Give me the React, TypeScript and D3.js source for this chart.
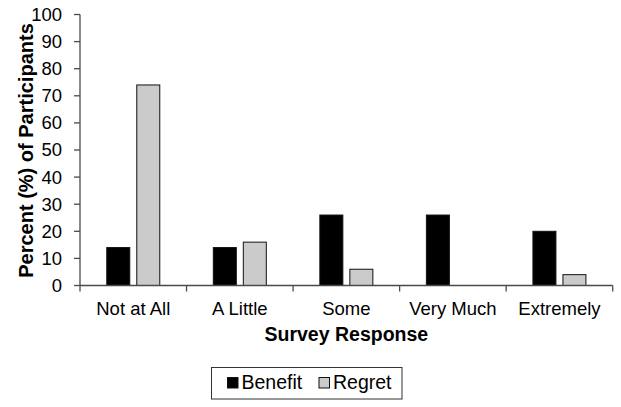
import React from "react";
import * as d3 from "d3";

const categories = ["Not at All", "A Little", "Some", "Very Much", "Extremely"];
const seriesNames = ["Benefit", "Regret"];
const benefitValues = [14, 14, 26, 26, 20];
const regretValues = [74, 16, 6, 0, 4];
const yTicks = [0, 10, 20, 30, 40, 50, 60, 70, 80, 90, 100];
const xTitle = "Survey Response";
const yTitle = "Percent (%) of Participants";

const colors: Record<string, string> = { Benefit: "#000000", Regret: "#cbcbcb" };
const FONT = "'Liberation Sans', Arial, sans-serif";
const AXIS = "#4a4a4a";

export default function App() {
  const W = 621, H = 407;
  const left = 80, right = 612.7, top = 14.5, bottom = 285.5;
  const x0 = d3.scaleBand<string>().domain(categories).range([left, right]).padding(0);
  const bw = x0.bandwidth();
  const groupW = 54;
  const off = (bw - groupW) / 2;
  const x1 = d3.scaleBand<string>().domain(seriesNames).range([off, off + groupW]).paddingInner(0.2).paddingOuter(0);
  const y = d3.scaleLinear().domain([0, 100]).range([bottom, top]);

  const data = categories.map((c, i) => ({ c, vals: [benefitValues[i], regretValues[i]] }));
  const boundaries = [...categories.map((c) => x0(c) as number), right];

  return (
    <svg width={W} height={H} style={{ position: "absolute", left: 0, top: 0, background: "#fff" }} fontFamily={FONT}>
      <rect width={W} height={H} fill="#fff" />
      {/* bars */}
      {data.map((d) =>
        d.vals.map((v, j) => {
          const s = seriesNames[j];
          if (v <= 0) return null;
          const xx = (x0(d.c) as number) + (x1(s) as number);
          return (
            <rect key={d.c + s} x={xx + 0.5} y={y(v)} width={x1.bandwidth() - 1} height={bottom - y(v)}
              fill={colors[s]} stroke="#111" strokeWidth={1} />
          );
        })
      )}
      {/* y axis */}
      <line x1={left} x2={left} y1={top} y2={bottom} stroke={AXIS} strokeWidth={1.3} />
      {yTicks.map((t) => (
        <g key={t}>
          <line x1={left - 6} x2={left} y1={y(t)} y2={y(t)} stroke={AXIS} strokeWidth={1.3} />
          <text x={left - 18} y={y(t)} dy="0.35em" textAnchor="end" fontSize={18.5} fill="#000">{t}</text>
        </g>
      ))}
      {/* x axis */}
      <line x1={left} x2={right} y1={bottom} y2={bottom} stroke={AXIS} strokeWidth={1.3} />
      {boundaries.map((b, i) => (
        <line key={i} x1={b} x2={b} y1={bottom} y2={bottom + 6} stroke={AXIS} strokeWidth={1.3} />
      ))}
      {categories.map((c) => (
        <text key={c} x={(x0(c) as number) + bw / 2} y={315} textAnchor="middle" fontSize={18.5} fill="#000">{c}</text>
      ))}
      <text x={(left + right) / 2} y={341} textAnchor="middle" fontSize={19.5} fontWeight="bold" fill="#000">{xTitle}</text>
      <text transform={`translate(33, 150.5) rotate(-90)`} textAnchor="middle" fontSize={20} fontWeight="bold" fill="#000">{yTitle}</text>
      {/* legend */}
      <g>
        <rect x={211.5} y={367.5} width={190.5} height={31.5} fill="#fff" stroke="#333" strokeWidth={1} />
        {seriesNames.map((s, i) => {
          const lx = i === 0 ? 227.5 : 319;
          return (
            <g key={s}>
              <rect x={lx} y={377.5} width={10.5} height={10.5} fill={colors[s]} stroke="#111" strokeWidth={1} />
              <text x={lx + 14} y={389} fontSize={19.5} fill="#000">{s}</text>
            </g>
          );
        })}
      </g>
    </svg>
  );
}
